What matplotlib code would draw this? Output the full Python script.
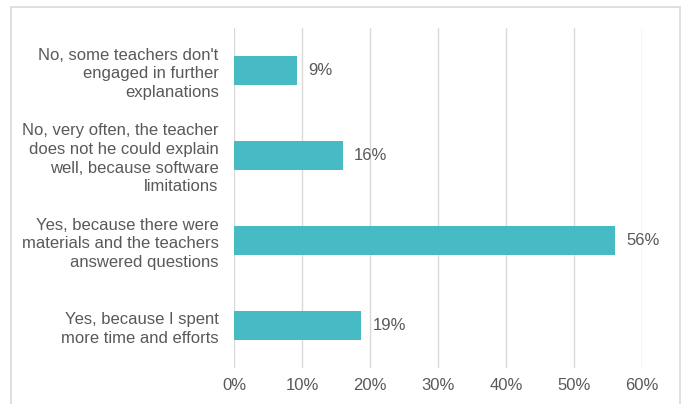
import matplotlib
matplotlib.use("Agg")
import matplotlib.pyplot as plt
from matplotlib.patches import Rectangle
from matplotlib.ticker import PercentFormatter

categories = [
    "No, some teachers don't\nengaged in further\nexplanations",
    "No, very often, the teacher\ndoes not he could explain\nwell, because software\nlimitations",
    "Yes, because there were\nmaterials and the teachers\nanswered questions",
    "Yes, because I spent\nmore time and efforts",
]
values = [0.093, 0.16, 0.56, 0.187]
value_labels = ["9%", "16%", "56%", "19%"]
xticks = [0, 0.1, 0.2, 0.3, 0.4, 0.5, 0.6]

plt.rcParams['font.family'] = ['Liberation Sans', 'DejaVu Sans']
text_color = '#595959'
bar_color = '#46BBC6'
grid_color = '#D9D9D9'

W, H = 684, 404
fig = plt.figure(figsize=(W / 100, H / 100), dpi=100)
fig.patch.set_facecolor('white')

# outer chart border
fig.patches.append(Rectangle((11 / W, -0.05), (680 - 11) / W, 1.05 - 7.5 / H,
                             transform=fig.transFigure, fill=False,
                             edgecolor=grid_color, linewidth=1.2))

ax = fig.add_axes([234 / W, 1 - 368 / H, (642 - 234) / W, (368 - 28) / H])
y = list(range(len(categories)))
ax.barh(y, values, height=0.35, color=bar_color, zorder=3)
ax.set_ylim(len(categories) - 0.5, -0.5)
ax.set_xlim(0, 0.6)
ax.set_yticks(y)
ax.set_yticklabels(categories, fontsize=12, color=text_color, ha='right',
                   linespacing=1.3)
ax.set_xticks(xticks)
ax.xaxis.set_major_formatter(PercentFormatter(1.0, decimals=0))
ax.tick_params(axis='x', length=0, pad=7, labelsize=12, labelcolor=text_color)
ax.tick_params(axis='y', length=0, pad=11)
for s in ax.spines.values():
    s.set_visible(False)
ax.grid(axis='x', color=grid_color, linewidth=1, zorder=0)
ax.set_axisbelow(True)

for yi, v, lab in zip(y, values, value_labels):
    ax.annotate(lab, (v, yi), xytext=(8, 0), textcoords='offset points',
                va='center', ha='left', fontsize=12, color=text_color)

fig.savefig('out.png', dpi=100)
